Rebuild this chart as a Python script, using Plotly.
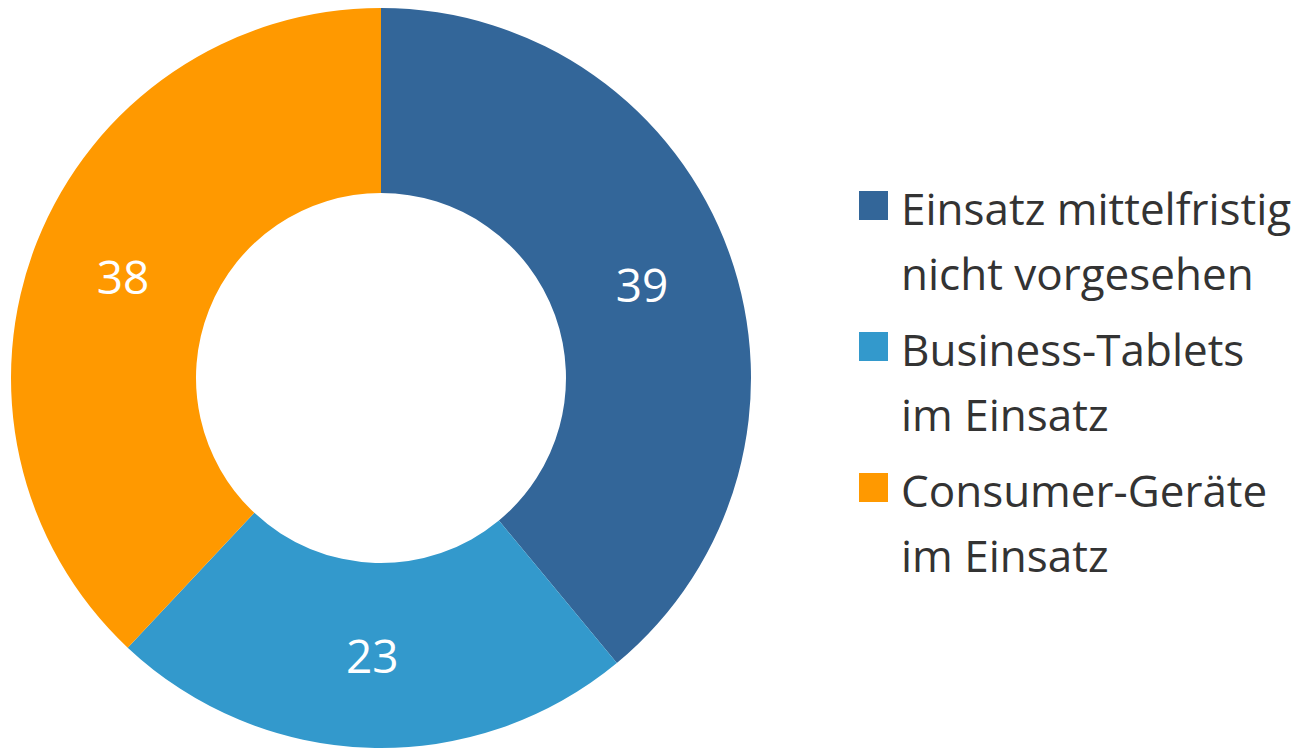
import plotly.graph_objects as go

labels = ["Einsatz mittelfristig<br>nicht vorgesehen", "Business-Tablets<br>im Einsatz", "Consumer-Geräte<br>im Einsatz"]
values = [39, 23, 38]
colors = ["#336699", "#3399cc", "#ff9900"]

W, H = 1305, 748

fig = go.Figure(go.Pie(
    labels=labels,
    values=values,
    hole=0.5,
    sort=False,
    direction="clockwise",
    rotation=0,
    marker=dict(colors=colors, line=dict(width=0)),
    textinfo="value",
    textposition="inside",
    insidetextorientation="horizontal",
    textfont=dict(color="white", size=46, family="Open Sans"),
    domain=dict(x=[0, 746 / W], y=[8 / H, 1]),
    hoverinfo="label+value",
    showlegend=False,
))

# custom legend (large square swatches + two-line labels)
shapes = []
annotations = []
sq = 29
sq_x0 = 851
text_x = 891
first_base = 214
line_gap = 65
entry_gap = 141
fs = 44
for i, (lab, col) in enumerate(zip(labels, colors)):
    base = first_base + i * entry_gap
    shapes.append(dict(
        type="rect", xref="paper", yref="paper",
        x0=sq_x0 / W, x1=(sq_x0 + sq) / W,
        y0=1 - (base - 2) / H, y1=1 - (base - 2 - sq) / H,
        fillcolor=col, line=dict(width=0),
    ))
    for j, line in enumerate(lab.split("<br>")):
        b = base + j * line_gap
        annotations.append(dict(
            text=line, xref="paper", yref="paper",
            x=text_x / W, y=1 - (b - 14.5) / H,
            xanchor="left", yanchor="middle", showarrow=False,
            font=dict(size=fs, color="#333333", family="Open Sans"),
        ))

fig.update_layout(
    width=W, height=H,
    margin=dict(l=0, r=0, t=0, b=0),
    paper_bgcolor="white",
    plot_bgcolor="white",
    shapes=shapes,
    annotations=annotations,
)

fig.write_html("out.html")
